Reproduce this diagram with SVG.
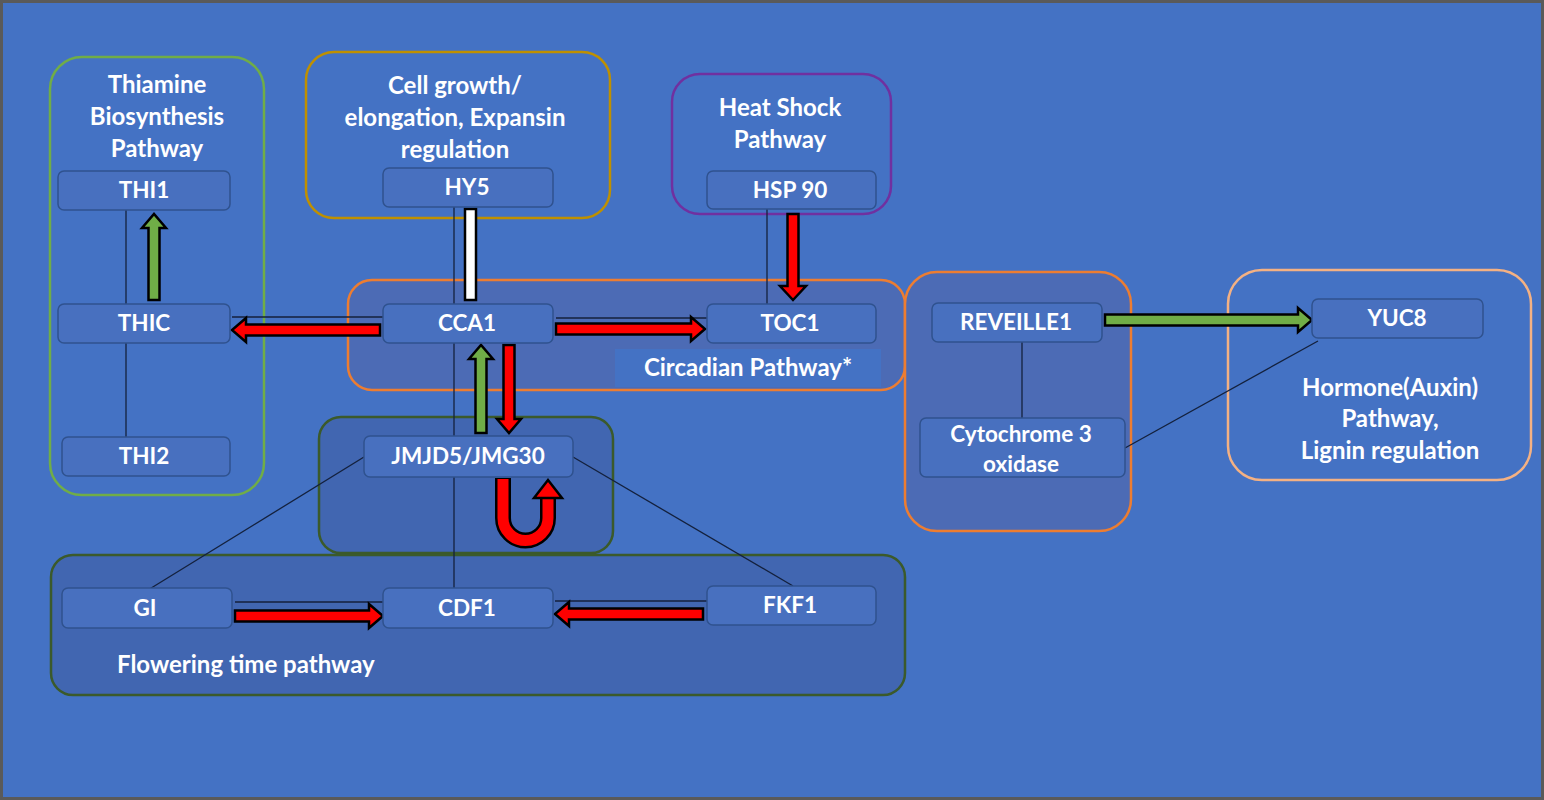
<svg xmlns="http://www.w3.org/2000/svg" width="1544" height="800" viewBox="0 0 1544 800">
<style>
.grp{stroke-width:2.5}
.node rect{fill:#4870BF;stroke:#2F528F;stroke-width:1.5}
text{font-family:Lato,"Liberation Sans",sans-serif;fill:#FFFFFF;text-anchor:middle;font-weight:bold}
.nl{font-size:22.5px}
.gl{font-size:24px}
.ln{stroke:#14213D;stroke-width:1.3;fill:none}
.red{fill:#FF0000;stroke:#000;stroke-width:2.5;stroke-linejoin:miter}
.grn{fill:#70AD47;stroke:#000;stroke-width:2.5}
.wht{fill:#FFFFFF;stroke:#000;stroke-width:2.5}
</style>
<rect x="1.5" y="1.5" width="1541" height="797" fill="#4472C4" stroke="#5A5A5A" stroke-width="3"/>

<g id="groups">
<g id="g-thiamine">
<rect class="grp" x="50" y="57" width="214" height="438" rx="32" fill="none" stroke="#70AD47"/>
<text class="gl" x="157" y="93">Thiamine</text>
<text class="gl" x="157" y="125">Biosynthesis</text>
<text class="gl" x="157" y="157">Pathway</text>
</g>
<g id="g-cellgrowth">
<rect class="grp" x="306" y="52" width="304" height="166" rx="28" fill="none" stroke="#BF9000"/>
<text class="gl" x="455" y="94">Cell growth/</text>
<text class="gl" x="455" y="126">elongation, Expansin</text>
<text class="gl" x="455" y="158">regulation</text>
</g>
<g id="g-heatshock">
<rect class="grp" x="672" y="74" width="219" height="140" rx="28" fill="none" stroke="#7030A0"/>
<text class="gl" x="780" y="116">Heat Shock</text>
<text class="gl" x="780" y="148">Pathway</text>
</g>
<g id="g-circadian">
<rect class="grp" x="348" y="280" width="557" height="110" rx="24" fill="#4C6BB5" stroke="#ED7D31"/>
<rect x="615" y="349" width="266" height="38" fill="#4472C4"/>
<text class="gl" x="748" y="376">Circadian Pathway*</text>
</g>
<g id="g-reveille">
<rect class="grp" x="905" y="272" width="226" height="259" rx="32" fill="#4C6BB5" stroke="#ED7D31"/>
</g>
<g id="g-hormone">
<rect class="grp" x="1228" y="270" width="303" height="210" rx="34" fill="none" stroke="#F4B183"/>
<text class="gl" x="1390" y="396">Hormone(Auxin)</text>
<text class="gl" x="1390" y="427">Pathway,</text>
<text class="gl" x="1390" y="459">Lignin regulation</text>
</g>
<g id="g-jmjd5">
<rect class="grp" x="319" y="417" width="294" height="136" rx="22" fill="#4166B1" stroke="#3B5A2B"/>
</g>
<g id="g-flowering">
<rect class="grp" x="51" y="555" width="854" height="140" rx="22" fill="#4166B1" stroke="#3B5A2B"/>
<text class="gl" x="117" y="673" style="text-anchor:start">Flowering time pathway</text>
</g>
</g>

<g id="connectors">
<line class="ln" x1="126" y1="210" x2="126" y2="304"/>
<line class="ln" x1="126" y1="343" x2="126" y2="437"/>
<line class="ln" x1="232" y1="317" x2="383" y2="317"/>
<line class="ln" x1="454" y1="207" x2="454" y2="588"/>
<line class="ln" x1="556" y1="318" x2="707" y2="318"/>
<line class="ln" x1="767" y1="209" x2="767" y2="304"/>
<line class="ln" x1="364" y1="457" x2="148" y2="590"/>
<line class="ln" x1="573" y1="457" x2="793" y2="586"/>
<line class="ln" x1="235" y1="602" x2="383" y2="602"/>
<line class="ln" x1="555" y1="601" x2="707" y2="601"/>
<line class="ln" x1="1022" y1="342" x2="1022" y2="418"/>
<line class="ln" x1="1125" y1="448" x2="1318" y2="341"/>

<polygon class="grn" points="148.5,300 148.5,228 142,228 154,214 166,228 159.5,228 159.5,300"/>
<polygon class="red" points="380,324.5 246,324.5 246,318 232,330 246,342 246,335.5 380,335.5"/>
<rect class="wht" x="465" y="209" width="11" height="91"/>
<polygon class="red" points="556,323.5 691,323.5 691,317 705,329 691,341 691,334.5 556,334.5"/>
<polygon class="red" points="787.5,214 787.5,286 780,286 793,300 806,286 798.5,286 798.5,214"/>
<polygon class="grn" points="475.5,433 475.5,359 469,359 481,345 493,359 486.5,359 486.5,433"/>
<polygon class="red" points="503.5,345 503.5,419 497,419 509,433 521,419 514.5,419 514.5,345"/>
<path d="M503,478 L503,518 A22.5,22.5 0 0 0 548,518 L548,497" fill="none" stroke="#000" stroke-width="16"/>
<path d="M503,479 L503,518 A22.5,22.5 0 0 0 548,518 L548,496" fill="none" stroke="#FF0000" stroke-width="11"/>
<polygon class="red" points="534,498 548,480 562,498"/>
<polygon class="red" points="235,610.5 369,610.5 369,604 383,616 369,628 369,621.5 235,621.5"/>
<polygon class="red" points="703,608.5 569,608.5 569,602 555,614 569,626 569,619.5 703,619.5"/>
<polygon class="grn" points="1105,314.5 1298,314.5 1298,308 1312,320 1298,332 1298,325.5 1105,325.5"/>
</g>

<g id="n-thi1" class="node"><rect x="58" y="171" width="172" height="39" rx="6"/><text class="nl" x="144" y="198">THI1</text></g>
<g id="n-thic" class="node"><rect x="58" y="304" width="172" height="39" rx="6"/><text class="nl" x="144" y="331">THIC</text></g>
<g id="n-thi2" class="node"><rect x="62" y="437" width="168" height="39" rx="6"/><text class="nl" x="144" y="464">THI2</text></g>
<g id="n-hy5" class="node"><rect x="383" y="168" width="170" height="39" rx="6"/><text class="nl" x="467" y="195">HY5</text></g>
<g id="n-hsp90" class="node"><rect x="707" y="171" width="169" height="38" rx="6"/><text class="nl" x="790" y="198">HSP 90</text></g>
<g id="n-cca1" class="node"><rect x="383" y="304" width="170" height="39" rx="6"/><text class="nl" x="467" y="331">CCA1</text></g>
<g id="n-toc1" class="node"><rect x="707" y="304" width="169" height="39" rx="6"/><text class="nl" x="790" y="331">TOC1</text></g>
<g id="n-reveille1" class="node"><rect x="932" y="303" width="170" height="39" rx="6"/><text class="nl" x="1016" y="330">REVEILLE1</text></g>
<g id="n-cyto" class="node"><rect x="920" y="418" width="205" height="59" rx="6"/><text class="nl" x="1021" y="442">Cytochrome 3</text><text class="nl" x="1021" y="472">oxidase</text></g>
<g id="n-yuc8" class="node"><rect x="1312" y="299" width="171" height="39" rx="6"/><text class="nl" x="1397" y="326">YUC8</text></g>
<g id="n-jmjd5" class="node"><rect x="364" y="436" width="209" height="41" rx="6"/><text class="nl" x="468" y="464">JMJD5/JMG30</text></g>
<g id="n-gi" class="node"><rect x="62" y="588" width="170" height="40" rx="6"/><text class="nl" x="145" y="616">GI</text></g>
<g id="n-cdf1" class="node"><rect x="383" y="588" width="170" height="40" rx="6"/><text class="nl" x="467" y="616">CDF1</text></g>
<g id="n-fkf1" class="node"><rect x="707" y="586" width="169" height="39" rx="6"/><text class="nl" x="790" y="613">FKF1</text></g>
</svg>
